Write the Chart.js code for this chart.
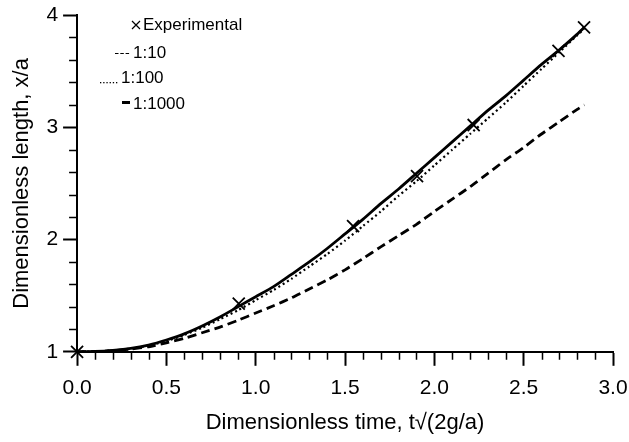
<!DOCTYPE html>
<html>
<head>
  <title>Dimensionless length vs time</title>
  <script src="https://cdn.jsdelivr.net/npm/chart.js"></script>
  <style>
    body {
      margin: 0;
      background: #fff;
    }
    canvas {
      display: block;
    }
  </style>
</head>
<body>
  <canvas id="lengthChart" width="629" height="442"></canvas>

  <script>
    // experimental points
    const expTime = [0.0, 0.905, 1.545, 1.903, 2.22, 2.695, 2.838];
    const expLength = [1.0, 1.43, 2.12, 2.565, 3.02, 3.68, 3.89];

    // model curves
    const modelTime = [0, 0.1, 0.2, 0.3, 0.4, 0.5, 0.6, 0.7, 0.8, 0.9, 1.0, 1.1, 1.2, 1.3, 1.4,
      1.5, 1.6, 1.7, 1.8, 1.9, 2.0, 2.1, 2.2, 2.3, 2.4, 2.5, 2.6, 2.7, 2.8, 2.84];
    const scale10 = [1.0, 1.002, 1.01, 1.025, 1.045, 1.08, 1.12, 1.17, 1.22, 1.28, 1.345, 1.41, 1.48, 1.56, 1.64,
      1.73, 1.83, 1.935, 2.035, 2.135, 2.25, 2.36, 2.47, 2.59, 2.71, 2.82, 2.94, 3.05, 3.16, 3.2];
    const scale100 = [1.0, 1.003, 1.012, 1.028, 1.055, 1.095, 1.15, 1.215, 1.29, 1.37, 1.46, 1.55, 1.65, 1.76, 1.87,
      1.99, 2.12, 2.25, 2.39, 2.52, 2.66, 2.8, 2.94, 3.08, 3.22, 3.37, 3.52, 3.67, 3.82, 3.88];
    const scale1000 = [1.0, 1.003, 1.013, 1.03, 1.06, 1.105, 1.16, 1.23, 1.31, 1.4, 1.49, 1.58, 1.69, 1.8, 1.92,
      2.05, 2.18, 2.32, 2.45, 2.59, 2.73, 2.87, 3.01, 3.15, 3.28, 3.42, 3.56, 3.69, 3.83, 3.89];

    const xMinorStep = 0.1;
    const yMinorStep = 0.2;

    const FONT = "'Liberation Sans', Arial, Helvetica, sans-serif";

    const pairs = (xs, ys) => xs.map((x, i) => ({ x: x, y: ys[i] }));

    // minor ticks (Chart.js only has one tick length per axis)
    const minorTicks = {
      id: 'minorTicks',
      afterDraw(chart) {
        const ctx = chart.ctx;
        const xs = chart.scales.x;
        const ys = chart.scales.y;
        ctx.save();
        ctx.strokeStyle = '#000';
        ctx.lineWidth = 1.5;
        ctx.beginPath();
        for (let v = xs.min + xMinorStep; v < xs.max - 1e-6; v += xMinorStep) {
          if (Math.abs(v * 2 - Math.round(v * 2)) < 1e-6) continue;
          const px = Math.round(xs.getPixelForValue(v)) + 0.5;
          ctx.moveTo(px, xs.top);
          ctx.lineTo(px, xs.top + 8);
        }
        for (let v = ys.min + yMinorStep; v < ys.max - 1e-6; v += yMinorStep) {
          if (Math.abs(v - Math.round(v)) < 1e-6) continue;
          const py = Math.round(ys.getPixelForValue(v)) + 0.5;
          ctx.moveTo(ys.right, py);
          ctx.lineTo(ys.right - 8, py);
        }
        ctx.stroke();
        ctx.restore();
      }
    };

    // legend in the top left corner, like the original figure
    const figLegend = {
      id: 'figLegend',
      afterDraw(chart) {
        const ctx = chart.ctx;
        ctx.save();
        ctx.fillStyle = '#000';
        ctx.strokeStyle = '#000';
        ctx.font = '17px ' + FONT;
        ctx.textBaseline = 'middle';

        // × Experimental
        ctx.lineWidth = 1.2;
        ctx.beginPath();
        ctx.moveTo(132, 21); ctx.lineTo(140, 29);
        ctx.moveTo(140, 21); ctx.lineTo(132, 29);
        ctx.stroke();
        ctx.fillText('Experimental', 143, 25);

        // --- 1:10
        ctx.lineWidth = 1.2;
        ctx.beginPath();
        for (let i = 0; i < 3; i++) {
          ctx.moveTo(115 + i * 5.3, 53.5);
          ctx.lineTo(118.5 + i * 5.3, 53.5);
        }
        ctx.stroke();
        ctx.fillText('1:10', 133, 53);

        // ...... 1:100
        for (let i = 0; i < 6; i++) {
          ctx.fillRect(100 + i * 3.2, 82, 1.3, 1.3);
        }
        ctx.fillText('1:100', 121, 78);

        // bar 1:1000
        ctx.fillRect(122, 101, 8, 3);
        ctx.fillText('1:1000', 133, 104);
        ctx.restore();
      }
    };

    const ctx = document.getElementById('lengthChart').getContext('2d');
    new Chart(ctx, {
      type: 'scatter',
      data: {
        datasets: [
          {
            label: '1:10',
            data: pairs(modelTime, scale10),
            showLine: true,
            borderColor: '#000',
            borderWidth: 2.8,
            borderDash: [9, 5],
            pointRadius: 0,
            tension: 0.2
          },
          {
            label: '1:100',
            data: pairs(modelTime, scale100),
            showLine: true,
            borderColor: '#000',
            borderWidth: 2.2,
            borderDash: [2, 3],
            pointRadius: 0,
            tension: 0.2
          },
          {
            label: '1:1000',
            data: pairs(modelTime, scale1000),
            showLine: true,
            borderColor: '#000',
            borderWidth: 2.8,
            pointRadius: 0,
            tension: 0.2
          },
          {
            label: 'Experimental',
            data: pairs(expTime, expLength),
            showLine: false,
            pointStyle: 'crossRot',
            pointRadius: 8.5,
            borderColor: '#000',
            borderWidth: 1.8,
            clip: false
          }
        ]
      },
      options: {
        responsive: false,
        animation: false,
        layout: {
          padding: { left: 3, right: 16, top: 15, bottom: 2 }
        },
        plugins: {
          legend: { display: false },
          tooltip: { enabled: false }
        },
        scales: {
          x: {
            type: 'linear',
            min: 0,
            max: 3,
            // the tick padding is otherwise added to the right margin too
            afterFit: (scale) => { scale.paddingRight = 10; },
            border: { color: '#000', width: 2 },
            grid: {
              drawOnChartArea: false,
              drawTicks: true,
              tickLength: 14,
              tickWidth: 2,
              tickColor: '#000'
            },
            ticks: {
              stepSize: 0.5,
              color: '#000',
              padding: 10,
              maxRotation: 0,
              font: { family: FONT, size: 21 },
              callback: (v) => v.toFixed(1)
            },
            title: {
              display: true,
              text: 'Dimensionless time, t\u221A(2g/a)',
              color: '#000',
              padding: { top: 1, bottom: 6 },
              font: { family: FONT, size: 22, lineHeight: 1.0 }
            }
          },
          y: {
            type: 'linear',
            min: 1,
            max: 4,
            afterFit: (scale) => { scale.paddingTop = 8; },
            border: { color: '#000', width: 2 },
            grid: {
              drawOnChartArea: false,
              drawTicks: true,
              tickLength: 14,
              tickWidth: 2,
              tickColor: '#000'
            },
            ticks: {
              stepSize: 1,
              color: '#000',
              padding: 5,
              font: { family: FONT, size: 21 }
            },
            title: {
              display: true,
              text: 'Dimensionless length, x/a',
              color: '#000',
              padding: { top: 6, bottom: 6 },
              font: { family: FONT, size: 22 }
            }
          }
        }
      },
      plugins: [minorTicks, figLegend]
    });
  </script>
</body>
</html>
